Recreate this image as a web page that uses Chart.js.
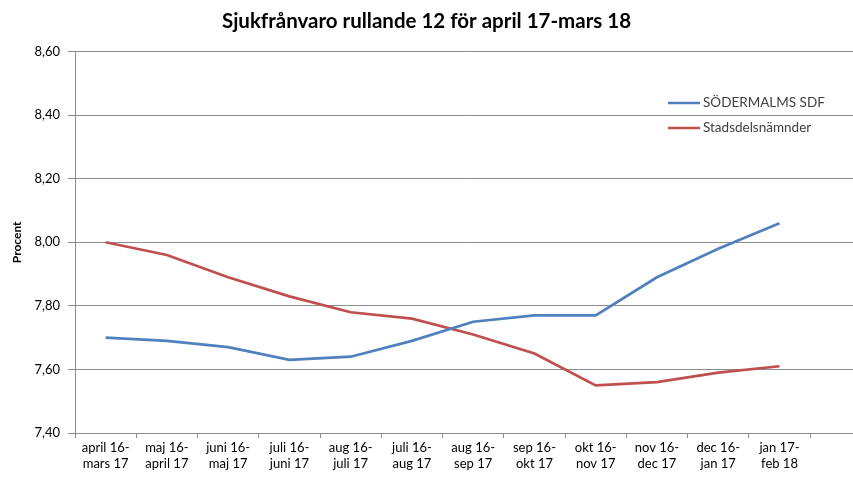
<!DOCTYPE html>
<html>
<head>
<meta charset="utf-8">
<script src="https://cdn.jsdelivr.net/npm/chart.js@4.4.0/dist/chart.umd.min.js"></script>
<style>
  html, body { margin: 0; padding: 0; background: #fff; }
  #wrap { width: 853px; height: 477px; }
</style>
</head>
<body>
<div id="wrap"><canvas id="myChart" width="853" height="477"></canvas></div>
<script>
// periods on the x axis (two lines each)
const periods = [
  ['april 16-', 'mars 17'], ['maj 16-', 'april 17'], ['juni 16-', 'maj 17'],
  ['juli 16-', 'juni 17'], ['aug 16-', 'juli 17'], ['juli 16-', 'aug 17'],
  ['aug 16-', 'sep 17'], ['sep 16-', 'okt 17'], ['okt 16-', 'nov 17'],
  ['nov 16-', 'dec 17'], ['dec 16-', 'jan 17'], ['jan 17-', 'feb 18']
];
const sodermalm = [7.70, 7.69, 7.67, 7.63, 7.64, 7.69, 7.75, 7.77, 7.77, 7.89, 7.98, 8.06];
const stadsdelar = [8.00, 7.96, 7.89, 7.83, 7.78, 7.76, 7.71, 7.65, 7.55, 7.56, 7.59, 7.61];
const yTicks = [7.40, 7.60, 7.80, 8.00, 8.20, 8.40, 8.60];

const font = "Lato, 'Open Sans', sans-serif";
const gridGrey = '#8c8c8c';

function toPoints(arr) {
  return arr.map((v, i) => ({ x: i, y: v }));
}

// legend drawn inside the plot area, like the original
const insideLegend = {
  id: 'insideLegend',
  afterDatasetsDraw(chart) {
    const ctx = chart.ctx;
    ctx.save();
    ctx.font = '13.5px ' + font;
    ctx.textBaseline = 'middle';
    chart.data.datasets.forEach((ds, i) => {
      const y = 103 + i * 25;
      ctx.strokeStyle = ds.borderColor;
      ctx.lineWidth = 2.5;
      ctx.beginPath();
      ctx.moveTo(668, y);
      ctx.lineTo(700, y);
      ctx.stroke();
      ctx.fillStyle = '#404040';
      ctx.fillText(ds.label, 703, y);
    });
    ctx.restore();
  }
};

const ctx = document.getElementById('myChart').getContext('2d');
new Chart(ctx, {
  type: 'line',
  data: {
    datasets: [{
      label: 'SÖDERMALMS SDF',
      data: toPoints(sodermalm),
      borderColor: '#4F81BD',
      borderWidth: 2.7,
      pointRadius: 0,
      tension: 0
    }, {
      label: 'Stadsdelsnämnder',
      data: toPoints(stadsdelar),
      borderColor: '#C0504D',
      borderWidth: 2.7,
      pointRadius: 0,
      tension: 0
    }]
  },
  options: {
    responsive: false,
    animation: false,
    layout: { padding: { left: 0, right: 0, top: 0, bottom: 0 } },
    plugins: {
      legend: { display: false },
      tooltip: { enabled: false },
      title: {
        display: true,
        text: 'Sjukfrånvaro rullande 12 för april 17-mars 18',
        color: '#000',
        font: { family: font, size: 20.5, weight: 'bold' },
        padding: { top: 9, bottom: 18 }
      }
    },
    scales: {
      x: {
        type: 'linear',
        min: -0.5,
        max: 12.2,
        afterBuildTicks(scale) {
          const t = [];
          for (let v = -0.5; v <= 11.5; v += 0.5) t.push({ value: v });
          scale.ticks = t;
        },
        afterFit(scale) { scale.height = 44; },
        grid: {
          drawOnChartArea: false,
          tickLength: 5,
          color: c => (c.tick && Number.isInteger(c.tick.value)) ? 'rgba(0,0,0,0)' : gridGrey
        },
        border: { color: gridGrey },
        ticks: {
          autoSkip: false,
          maxRotation: 0,
          padding: 2,
          color: '#000',
          font: { family: font, size: 13 },
          callback: v => Number.isInteger(v) ? periods[v] : ''
        }
      },
      y: {
        min: 7.4,
        max: 8.6,
        afterBuildTicks(scale) {
          scale.ticks = yTicks.map(v => ({ value: v }));
        },
        afterFit(scale) { scale.width = 75; },
        grid: { color: gridGrey, tickLength: 7 },
        border: { color: gridGrey },
        title: {
          display: true,
          text: 'Procent',
          color: '#000',
          font: { family: font, size: 12, weight: 'bold' },
          padding: { top: 10, bottom: 0 }
        },
        ticks: {
          padding: 8,
          color: '#000',
          font: { family: font, size: 13 },
          callback: v => v.toFixed(2).replace('.', ',')
        }
      }
    }
  },
  plugins: [insideLegend]
});
</script>
</body>
</html>
